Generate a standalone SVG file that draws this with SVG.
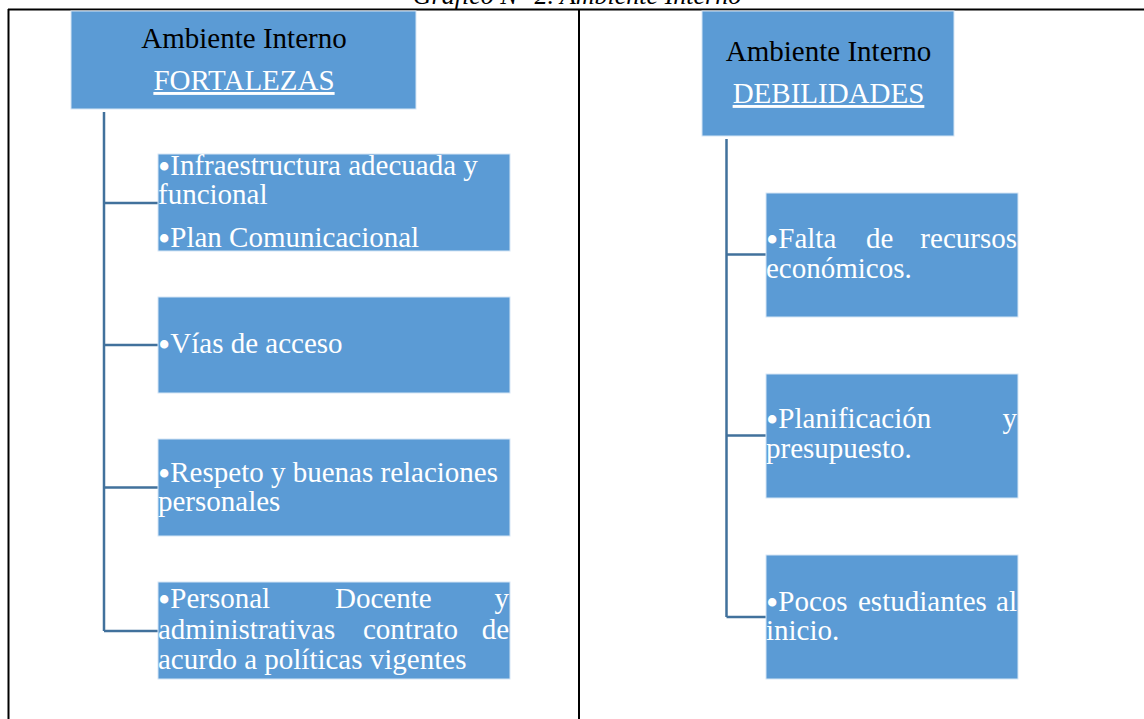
<svg xmlns="http://www.w3.org/2000/svg" width="1144" height="719" viewBox="0 0 1144 719">
<style>
.frame{stroke:#000;stroke-width:2;fill:none}
.box{fill:#5B9BD5;stroke:#D6E6F5;stroke-width:1}
.conn{stroke:#41719C;stroke-width:2.5;fill:none}
.t{font-family:"Liberation Serif","Times New Roman",serif;font-size:29px;fill:#fff}
.b{font-size:35px}
.h{font-family:"Liberation Serif","Times New Roman",serif;font-size:29px;fill:#000;text-anchor:middle}
.hu{font-family:"Liberation Serif","Times New Roman",serif;font-size:29px;fill:#fff;text-anchor:middle;text-decoration:underline}
.cap{font-family:"Liberation Serif","Times New Roman",serif;font-size:26px;font-style:italic;fill:#000;text-anchor:middle}
.e{text-anchor:end}
</style>
<rect width="1144" height="719" fill="#fff"/>
<text class="cap" x="577" y="4">Gráfico N° 2. Ambiente Interno</text>
<g id="table">
<line class="frame" x1="8" y1="9.5" x2="1144" y2="9.5"/>
<line class="frame" x1="8.5" y1="9" x2="8.5" y2="719"/>
<line class="frame" x1="579" y1="9" x2="579" y2="719"/>
</g>
<g id="connectors">
<path class="conn" d="M104 112 V631 M104 203 H158 M104 345 H158 M104 487.5 H158 M104 631 H158"/>
<path class="conn" d="M726.5 139 V617 M726.5 254.5 H766 M726.5 435.5 H766 M726.5 617 H766"/>
</g>
<g id="fortalezas-header">
<rect class="box" x="71" y="11" width="345" height="98"/>
<text class="h" x="244" y="48">Ambiente Interno</text>
<text class="hu" x="244" y="90">FORTALEZAS</text>
</g>
<g id="f1">
<rect class="box" x="158" y="154" width="352" height="97"/>
<text class="t" x="158" y="175"><tspan class="b" dy="4">•</tspan><tspan dy="-4">Infraestructura adecuada y</tspan></text>
<text class="t" x="158" y="204">funcional</text>
<text class="t" x="158" y="247"><tspan class="b" dy="4">•</tspan><tspan dy="-4">Plan Comunicacional</tspan></text>
</g>
<g id="f2">
<rect class="box" x="158" y="297" width="352" height="96"/>
<text class="t" x="158" y="353"><tspan class="b" dy="4">•</tspan><tspan dy="-4">Vías de acceso</tspan></text>
</g>
<g id="f3">
<rect class="box" x="158" y="439" width="352" height="97"/>
<text class="t" x="158" y="482"><tspan class="b" dy="4">•</tspan><tspan dy="-4">Respeto y buenas relaciones</tspan></text>
<text class="t" x="158" y="511">personales</text>
</g>
<g id="f4">
<rect class="box" x="158" y="582" width="352" height="97"/>
<text class="t" x="158" y="608"><tspan class="b" dy="4">•</tspan><tspan dy="-4">Personal</tspan></text>
<text class="t" x="335" y="608">Docente</text>
<text class="t e" x="509" y="608">y</text>
<text class="t" x="158" y="639">administrativas</text>
<text class="t" x="363" y="639">contrato</text>
<text class="t e" x="509" y="639">de</text>
<text class="t" x="158" y="669">acurdo a políticas vigentes</text>
</g>
<g id="debilidades-header">
<rect class="box" x="702" y="11" width="252" height="125"/>
<text class="h" x="828.5" y="61">Ambiente Interno</text>
<text class="hu" x="828.5" y="103">DEBILIDADES</text>
</g>
<g id="d1">
<rect class="box" x="766" y="193" width="252" height="124"/>
<text class="t" x="766" y="248"><tspan class="b" dy="4">•</tspan><tspan dy="-4">Falta</tspan></text>
<text class="t" x="866" y="248">de</text>
<text class="t e" x="1017" y="248">recursos</text>
<text class="t" x="766" y="278">económicos.</text>
</g>
<g id="d2">
<rect class="box" x="766" y="374" width="252" height="124"/>
<text class="t" x="766" y="428"><tspan class="b" dy="4">•</tspan><tspan dy="-4">Planificación</tspan></text>
<text class="t e" x="1017" y="428">y</text>
<text class="t" x="766" y="458">presupuesto.</text>
</g>
<g id="d3">
<rect class="box" x="766" y="555" width="252" height="124"/>
<text class="t" x="766" y="611"><tspan class="b" dy="4">•</tspan><tspan dy="-4">Pocos</tspan></text>
<text class="t" x="858" y="611">estudiantes</text>
<text class="t e" x="1017" y="611">al</text>
<text class="t" x="766" y="640">inicio.</text>
</g>
</svg>
